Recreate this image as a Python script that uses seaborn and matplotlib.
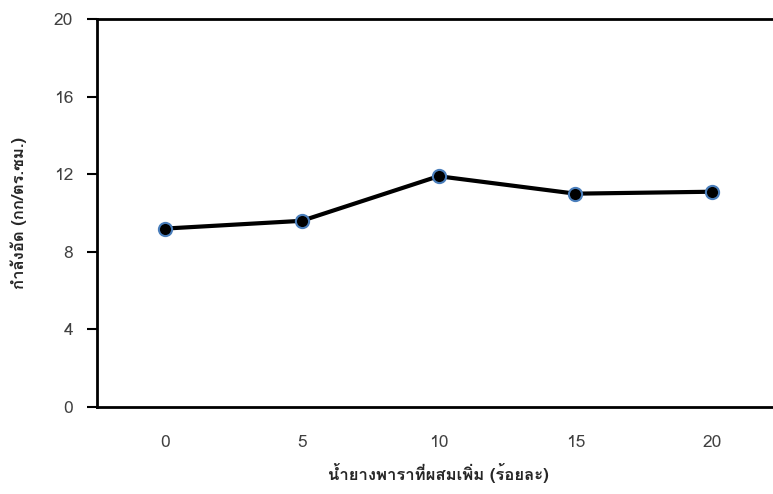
import matplotlib
matplotlib.use('Agg')
import matplotlib.pyplot as plt
import seaborn as sns
from matplotlib import font_manager
from matplotlib.ft2font import FT2Font

# Data
latex_pct = ['0', '5', '10', '15', '20']
strength = [9.2, 9.6, 11.9, 11.0, 11.1]
y_ticks = [0, 4, 8, 12, 16, 20]

x_label = 'น้ำยางพาราที่ผสมเพิ่ม (ร้อยละ)'
y_label = 'กำลังอัด (กก/ตร.ซม.)'


def thai_families():
    # find installed families that carry Thai glyphs
    found = []
    for f in font_manager.fontManager.ttflist:
        try:
            cmap = FT2Font(f.fname).get_charmap()
        except Exception:
            continue
        if 0x0E01 in cmap and f.name not in found:
            found.append(f.name)
    return found


sns.set_theme(style='white')
plt.rcParams['font.family'] = thai_families() + ['DejaVu Sans']

fig = plt.figure(figsize=(7.73, 4.94), dpi=100)
ax = fig.add_axes([0.125, 0.176, 0.8846, 0.7854])

xpos = list(range(len(latex_pct)))
sns.lineplot(x=xpos, y=strength, ax=ax, color='black', linewidth=3,
             marker='o', markersize=9.5, markerfacecolor='black',
             markeredgecolor='#4a7ebb', markeredgewidth=1.5)

ax.set_xlim(-0.5, len(latex_pct) - 0.5)
ax.set_ylim(0, 20)
ax.set_xticks(xpos)
ax.set_xticklabels(latex_pct)
ax.set_yticks(y_ticks)
ax.tick_params(axis='y', length=7, width=1.5, color='black', labelsize=12.5,
               labelcolor='#404040', left=True, pad=10)
ax.tick_params(axis='x', length=0, labelsize=12.5, labelcolor='#404040', pad=20)

for s in ['left', 'bottom', 'top']:
    ax.spines[s].set_color('black')
    ax.spines[s].set_linewidth(2)
ax.spines['right'].set_visible(False)

ax.set_xlabel(x_label, fontsize=12, fontweight='bold', labelpad=9)
ax.set_ylabel(y_label, fontsize=12, fontweight='bold', labelpad=19)

fig.savefig('out.png', dpi=100)
